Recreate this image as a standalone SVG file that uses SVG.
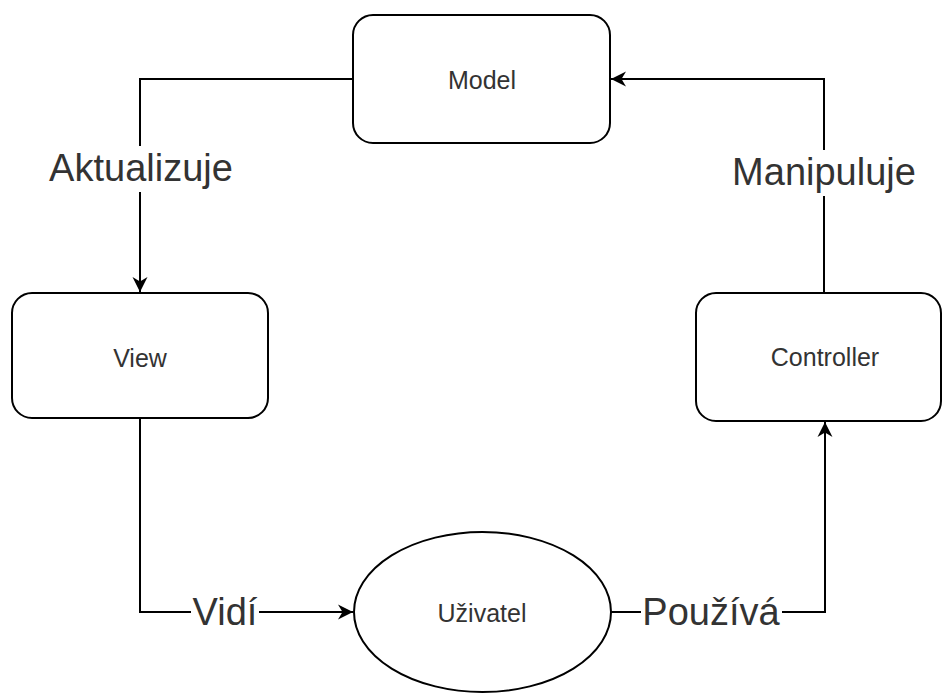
<svg xmlns="http://www.w3.org/2000/svg" width="942" height="695" viewBox="0 0 942 695">
<style>
.node{fill:#fff;stroke:#000;stroke-width:2}
.edge{fill:none;stroke:#000;stroke-width:2}
.ntext{font-family:"Liberation Sans",Arial,sans-serif;font-size:25px;fill:#333;text-anchor:middle;dominant-baseline:central}
.ltext{font-family:"Liberation Sans",Arial,sans-serif;font-size:38px;fill:#333;text-anchor:middle;dominant-baseline:central}
.lbg{fill:#fff;stroke:none}
</style>
<defs>
<marker id="arr" viewBox="0 0 16 16" refX="15" refY="8" markerWidth="16" markerHeight="16" markerUnits="userSpaceOnUse" orient="auto">
<path d="M15,8 L0,0.5 L4.5,8 L0,15.5 Z" fill="#000"/>
</marker>
</defs>
<rect width="942" height="695" fill="#fff"/>
<g id="connectors">
<g id="e-aktualizuje">
<path class="edge" d="M353,79 H140 V292" marker-end="url(#arr)"/>
<rect class="lbg" x="46" y="146" width="190" height="46"/>
<text class="ltext" x="141" y="168">Aktualizuje</text>
</g>
<g id="e-manipuluje">
<path class="edge" d="M824,293 V79 H611" marker-end="url(#arr)"/>
<rect class="lbg" x="728" y="150" width="192" height="46"/>
<text class="ltext" x="824" y="172">Manipuluje</text>
</g>
<g id="e-vidi">
<path class="edge" d="M140,418 V612 H353" marker-end="url(#arr)"/>
<rect class="lbg" x="191" y="590" width="68" height="46"/>
<text class="ltext" x="225" y="612">Vidí</text>
</g>
<g id="e-pouziva">
<path class="edge" d="M611,612 H825 V422" marker-end="url(#arr)"/>
<rect class="lbg" x="641" y="590" width="141" height="46"/>
<text class="ltext" x="711" y="612">Používá</text>
</g>
</g>
<g id="model">
<rect class="node" x="353" y="15" width="257" height="128" rx="20" ry="20"/>
<text class="ntext" x="482" y="80">Model</text>
</g>
<g id="view">
<rect class="node" x="12" y="293" width="256" height="125" rx="20" ry="20"/>
<text class="ntext" x="140" y="358">View</text>
</g>
<g id="controller">
<rect class="node" x="696" y="293" width="245" height="128" rx="20" ry="20"/>
<text class="ntext" x="825" y="357">Controller</text>
</g>
<g id="uzivatel">
<ellipse class="node" cx="482.5" cy="612" rx="128.5" ry="80"/>
<text class="ntext" x="482" y="613">Uživatel</text>
</g>
</svg>
